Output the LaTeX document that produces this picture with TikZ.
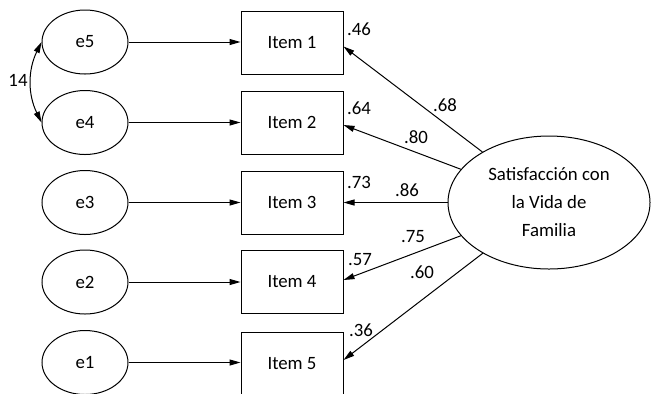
\documentclass[tikz,border=0pt]{standalone}
\usepackage{fontspec}
\setmainfont{Carlito}
\usetikzlibrary{shapes.geometric,arrows.meta}
\begin{document}
\begin{tikzpicture}[x=0.5pt,y=-0.5pt,
  font=\fontsize{9.4pt}{14pt}\selectfont,
  err/.style={draw,ellipse,line width=0.5pt,minimum width=43pt,minimum height=32pt,inner sep=0pt},
  itembox/.style={draw,rectangle,line width=0.5pt,minimum width=51pt,minimum height=31.5pt,inner sep=0pt},
  latent/.style={draw,ellipse,line width=0.5pt,minimum width=101pt,minimum height=66.5pt,inner sep=0pt,align=center},
  arr/.style={line width=0.5pt,-{Triangle[length=5.5pt,width=3pt]}},
  lbl/.style={inner sep=0pt}]
\useasboundingbox (0,0) rectangle (652,393);
\node[err] (e5) at (85,42) {e5};
\node[err] (e4) at (85,122.5) {e4};
\node[err] (e3) at (85,202.5) {e3};
\node[err] (e2) at (85,282) {e2};
\node[err] (e1) at (85,362.5) {e1};
\node[itembox] (i1) at (292,42.5) {Item 1};
\node[itembox] (i2) at (292,122.5) {Item 2};
\node[itembox] (i3) at (292,202.5) {Item 3};
\node[itembox] (i4) at (292,281.5) {Item 4};
\node[itembox] (i5) at (292,363.5) {Item 5};
\node[latent] (lat) at (549,202.5) {Satisfacción con\\la Vida de\\Familia};
\foreach \k in {1,...,5}{
  \draw[arr] (e\k.east) -- (e\k.east -| i\k.west);
}
\draw[line width=0.5pt,{Triangle[length=5.5pt,width=3pt]}-{Triangle[length=5.5pt,width=3pt]}] (e5.west) to[bend right=26] (e4.west);
\draw[arr] (lat) -- ([yshift=-2pt]i1.east);
\draw[arr] (lat) -- ([yshift=-1.25pt]i2.east);
\draw[arr] (lat) -- (i3.east);
\draw[arr] (lat) -- ([yshift=0.75pt]i4.east);
\draw[arr] (lat) -- ([yshift=1.75pt]i5.east);
\node[lbl] (c14) at (18,80) {14};
\node[lbl] (r1) at (359,29) {.46};
\node[lbl] (r2) at (359,108) {.64};
\node[lbl] (r3) at (359,182) {.73};
\node[lbl] (r4) at (360,260) {.57};
\node[lbl] (r5) at (361,330) {.36};
\node[lbl] (l1) at (445,105) {.68};
\node[lbl] (l2) at (416,137) {.80};
\node[lbl] (l3) at (407,190) {.86};
\node[lbl] (l4) at (413,237) {.75};
\node[lbl] (l5) at (422,272) {.60};
\end{tikzpicture}
\end{document}
